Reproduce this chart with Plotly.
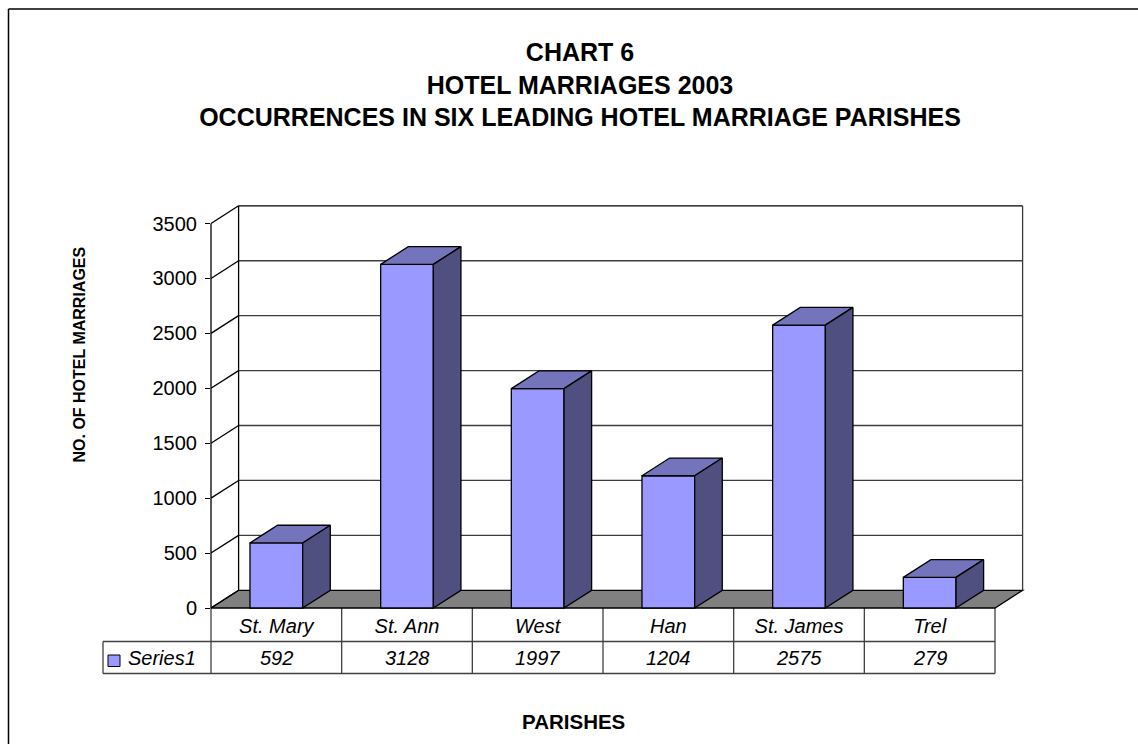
import plotly.graph_objects as go

categories = ["St. Mary", "St. Ann", "West", "Han", "St. James", "Trel"]
series_name = "Series1"
values = [592, 3128, 1997, 1204, 2575, 279]
y_ticks = [0, 500, 1000, 1500, 2000, 2500, 3000, 3500]
title_lines = ["CHART 6", "HOTEL MARRIAGES 2003", "OCCURRENCES IN SIX LEADING HOTEL MARRIAGE PARISHES"]
x_title = "PARISHES"
y_title = "NO. OF HOTEL MARRIAGES"

W, H = 1138, 744
FONT = "Liberation Sans, Arial, sans-serif"
X0, XF, XR = 211.0, 995.0, 1026.0      # pixel: axis start, front end, plot end
YZ, YT, YB, YP = 608.0, 223.5, 612.0, 203.0  # pixel: zero, 3500, plot bottom, plot top
ux = (XF - X0) / len(categories)
uy = (YZ - YT) / y_ticks[-1]
DX = 27.6 / ux   # depth in x data units
DY = 17.7 / uy   # depth in y data units
BAR_W = 52.7 / ux
FRONT, TOP, SIDE, FLOOR = "#9999FF", "#7474BC", "#4F4F80", "#808080"
LINE = "#000000"
GRID = "#3c3c3c"
TBL = "#404040"
FS = 20
LW = 1.3


def px(x):
    return x / W


def py(y):
    return 1 - y / H


centers = [i + 0.5 for i in range(len(categories))]
fig = go.Figure()

# Front faces
fig.add_trace(go.Bar(x=centers, y=values, width=BAR_W, name=series_name,
                     marker=dict(color=FRONT, line=dict(color=LINE, width=LW)),
                     hoverinfo="skip", showlegend=False))

# Top and side faces
tx, ty, sx, sy = [], [], [], []
for c, v in zip(centers, values):
    l, r = c - BAR_W / 2, c + BAR_W / 2
    tx += [l, r, r + DX, l + DX, l, None]
    ty += [v, v, v + DY, v + DY, v, None]
    sx += [r, r + DX, r + DX, r, r, None]
    sy += [v, v + DY, DY, 0, v, None]
fig.add_trace(go.Scatter(x=tx, y=ty, mode="lines", fill="toself", fillcolor=TOP,
                         line=dict(color=LINE, width=LW), hoverinfo="skip", showlegend=False))
fig.add_trace(go.Scatter(x=sx, y=sy, mode="lines", fill="toself", fillcolor=SIDE,
                         line=dict(color=LINE, width=LW), hoverinfo="skip", showlegend=False))

shapes = []
n = len(categories)


def seg(x0, y0, x1, y1, color=LINE, width=LW, xref="x", yref="y"):
    shapes.append(dict(type="line", x0=x0, y0=y0, x1=x1, y1=y1, xref=xref, yref=yref,
                       line=dict(color=color, width=width), layer="below"))


# Floor
shapes.append(dict(type="path", xref="x", yref="y", layer="below", fillcolor=FLOOR,
                   line=dict(color=LINE, width=LW),
                   path=f"M0,0 L{n},0 L{n + DX},{DY} L{DX},{DY} Z"))
# Back-wall gridlines and left-wall diagonals
for t in y_ticks:
    if t > 0:
        seg(DX, t + DY, n + DX, t + DY, color=GRID if t < y_ticks[-1] else LINE)
    seg(0, t, DX, t + DY)
# Wall edges
seg(DX, DY, DX, y_ticks[-1] + DY)
seg(n + DX, DY, n + DX, y_ticks[-1] + DY, color=GRID)
seg(px(X0), 0, px(X0), y_ticks[-1], xref="paper")

# Data table
R1, R2, R3 = YZ, 641.5, 673.5
XL = 103.0
for i in range(n + 1):
    xp = px(X0 + i * ux)
    seg(xp, py(R1), xp, py(R3), color=TBL, xref="paper", yref="paper")
seg(px(X0), py(R2), px(XF), py(R2), color=TBL, xref="paper", yref="paper")
seg(px(XL), py(R2), px(X0), py(R2), color=TBL, xref="paper", yref="paper")
seg(px(XL), py(R3), px(XF), py(R3), color=TBL, xref="paper", yref="paper")
seg(px(XL), py(R2), px(XL), py(R3), color=TBL, xref="paper", yref="paper")
shapes.append(dict(type="rect", xref="paper", yref="paper", x0=px(108), x1=px(120),
                   y0=py(666.5), y1=py(655), fillcolor=FRONT, line=dict(color=LINE, width=1)))
# Outer chart frame
seg(px(8.5), py(9), px(W + 2), py(9), color="#000000", width=1.5, xref="paper", yref="paper")
seg(px(8.5), py(9), px(8.5), py(H + 2), color="#000000", width=1.5, xref="paper", yref="paper")

annotations = []
for c, v in zip(centers, values):
    annotations.append(dict(x=c, y=py((R2 + R3) / 2), xref="x", yref="paper", text=f"<i>{v}</i>",
                            xanchor="center", yanchor="middle",
                            showarrow=False, font=dict(size=FS, color="#000", family=FONT)))
annotations.append(dict(x=px(126), y=py((R2 + R3) / 2), xref="paper", yref="paper", xanchor="left",
                        yanchor="middle", text=f"<i>{series_name}</i>", showarrow=False,
                        font=dict(size=FS, color="#000", family=FONT)))
annotations.append(dict(x=px(573), y=py(721), xref="paper", yref="paper", text=f"<b>{x_title}</b>",
                        xanchor="center", yanchor="middle",
                        showarrow=False, font=dict(size=20.5, color="#000", family=FONT)))
annotations.append(dict(x=px(78.5), y=py(355), xref="paper", yref="paper", text=f"<b>{y_title}</b>",
                        xanchor="center", yanchor="middle",
                        textangle=-90, showarrow=False, font=dict(size=16, color="#000", family=FONT)))

fig.update_layout(
    width=W, height=H, margin=dict(l=0, r=0, t=0, b=0),
    paper_bgcolor="white", plot_bgcolor="white", showlegend=False,
    title=dict(text="<br>".join(f"<b>{t}</b>" for t in title_lines),
               x=px(580), xanchor="center", y=py(61), yanchor="top", automargin=False,
               font=dict(size=25, color="#000", family=FONT)),
    xaxis=dict(domain=[px(X0), px(XR)], range=[0, (XR - X0) / ux], tickmode="array",
               tickvals=centers, ticktext=[f"<i>{c}</i>" for c in categories], automargin=False,
               ticks="", showgrid=False, zeroline=False, showline=False,
               tickfont=dict(size=FS, color="#000", family=FONT)),
    yaxis=dict(domain=[py(YB), py(YP)], range=[(YZ - YB) / uy, (YZ - YP) / uy], tickmode="array",
               tickvals=y_ticks, ticks="outside", ticklen=5, tickcolor="#000", tickwidth=LW,
               ticklabelstandoff=4,
               showgrid=False, zeroline=False, showline=False, automargin=False,
               tickfont=dict(size=FS, color="#000", family=FONT)),
    shapes=shapes, annotations=annotations,
)

fig.write_html("out.html", config=dict(displayModeBar=False),
               post_script="document.body.style.margin='0';document.documentElement.style.overflow='hidden';")
